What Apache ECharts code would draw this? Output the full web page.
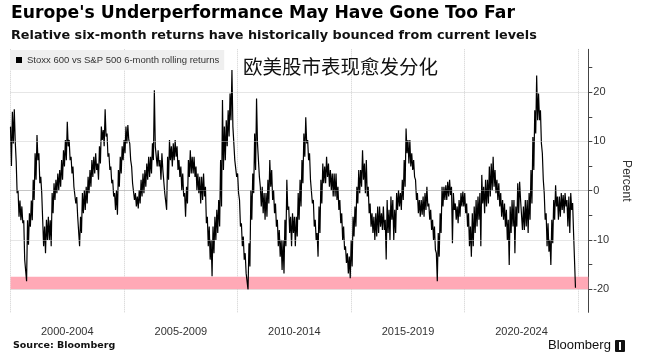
<!DOCTYPE html>
<html>
<head>
<meta charset="utf-8">
<script src="https://cdn.jsdelivr.net/npm/echarts@6/dist/echarts.min.js"></script>
<style>
  html, body { margin: 0; padding: 0; background: #fff; }
  #chart { width: 654px; height: 364px; }
</style>
</head>
<body>
<div id="chart"></div>
<script>
// ---- Data (monthly high / low of the daily series, %) ----
const startYear = 2000;
const seriesName = 'Stoxx 600 vs S&P 500 6-month rolling returns';
const periodLabels = ['2000-2004', '2005-2009', '2010-2014', '2015-2019', '2020-2024'];
const yTickValues = [-20, -15, -10, -5, 0, 5, 10, 15, 20, 25];
const yLabelValues = [-20, -10, 0, 10, 20];
const gridValues = [-20, -10, 10, 20];
const zeroValue = [0];
const bandRange = [-17.5, -20];

const highs = [
  /*2000*/ 13, 16, 16.5, 6, 0, -2, -3.2, -6, -14, -6, -4.6, -2,
  /*2001*/ 2.2, 7.6, 11.3, 7.6, 2.8, -5.9, -7.3, -5.9, -5.3, -6, -0.5, 1.5,
  /*2002*/ 2.2, 3.5, 4.2, 6.2, 8.2, 10.3, 14, 10.3, 6.9, 4.9, 0.8, -1.3,
  /*2003*/ -5.3, -5.3, -0.5, 0.1, 0.8, 2.8, 4.2, 6.2, 6.9, 7.6, 5.5, 9,
  /*2004*/ 13, 12.3, 16.5, 11.6, 7.6, 4.9, 2.2, -0.5, 0.1, 4.2, 6.9, 9,
  /*2005*/ 10.3, 13, 13.3, 9.6, 4.9, 1.5, -0.5, -1.2, 0.1, 2.2, 3.5, 4.2,
  /*2006*/ 5.5, 6.9, 6.9, 9.6, 20.4, 9, 8.2, 6.2, 7.6, 4.2, -0.5, 6.9,
  /*2007*/ 10.3, 9, 9.6, 10.3, 9, 6.2, 4.9, 3.5, -0.5, 0.8, 6.2, 8.2,
  /*2008*/ 6.9, 6.9, 4.9, 3.5, 2.8, 2.8, 3.5, 0.8, -5.3, -7.3, -10, -7.3,
  /*2009*/ -5.3, -3.9, -1.9, 6.2, 18.4, 13, 14.3, 16.3, 19.7, 24.5, 13, 6.2,
  /*2010*/ 3.5, -1.9, -6.6, -9.3, -12.7, -16.8, -10.7, 0.1, 3.5, 11.6, 18.7, 9.6,
  /*2011*/ 0.8, 0.8, -0.5, -0.5, 2.2, 6.2, 4.2, 0.1, -2.6, -5.9, -8, -10,
  /*2012*/ -10, -5.9, 2.2, -3.2, -5.3, -4.6, -5.3, -5.3, -0.5, 2.2, 6.2, 11.6,
  /*2013*/ 14.9, 10.3, 7.6, 2.2, -1.9, -5.9, -8.6, -3.2, 2.2, 5.5, 4.9, 6.9,
  /*2014*/ 5.5, 4.2, 3.5, 3.5, 3.5, 0.8, -1.9, -4.6, -7.3, -11.3, -12.7, -13.4,
  /*2015*/ -10, -5.3, -3.2, 0.8, 4.2, 4.2, 8.2, 5.5, 6.2, 0.8, -2.6, -4.6,
  /*2016*/ -5.3, -4.6, -3.2, -3.2, -4.6, -3.2, -5.9, -1.9, -3.9, -1.2, -1.9, -3.9,
  /*2017*/ -0.5, 0.1, -0.5, 2.2, 6.2, 12.6, 10.3, 10.3, 7.6, 6.2, 2.2, -0.5,
  /*2018*/ -1.9, -1.9, -1.2, -0.5, 0.8, -2.6, -3.9, -5.9, -7.3, -12.7, -8.6, -4.6,
  /*2019*/ 0.8, 0.8, 1.1, 1.8, 2.2, 0.8, -0.5, -2.6, -3.2, -1.9, -0.5, -0.2,
  /*2020*/ -0.5, -2.6, -4.6, -7.3, -4.6, -3.2, -1.9, -1.2, -0.5, 3.2, 0.8, 2.2,
  /*2021*/ 2.2, 4.9, 5.5, 6.9, 4.2, 2.2, 1.5, -0.5, -1.9, -2.6, -3.9, -5.9,
  /*2022*/ -3.2, -1.9, -1.9, -3.2, 1.5, 1.8, -1.9, -3.2, -1.9, -1.9, -0.5, 4.2,
  /*2023*/ 10.9, 16.3, 23.4, 19.7, 16.3, 7.6, -0.5, -4.6, -6.6, -10, -5.9, -1.9,
  /*2024*/ 1.1, -1.2, -1.2, -0.5, -0.9, -0.5, -1.9, -1.2, -0.5, -2.5, -9
];
const lows = [
  /*2000*/ 5, 9.6, 10, -0.5, -5.3, -6, -6.6, -14, -18.4, -11, -7.3, -6,
  /*2001*/ -1.9, 2.2, 6.2, 1.5, -0.5, -11.3, -12.7, -10, -10, -11.3, -4.6, -1.9,
  /*2002*/ -0.5, 0.1, 0.8, 2.2, 4.9, 6.2, 9, 6.2, 3.5, 0.8, -2.6, -5.3,
  /*2003*/ -11.3, -8.6, -4.6, -3.9, -2.6, -0.5, 0.8, 2.8, 3.5, 4.2, 2.2, 5.5,
  /*2004*/ 10.3, 9, 11, 6.9, 4.2, 1.5, -1.2, -3.9, -4.9, 0.8, 3.5, 6.2,
  /*2005*/ 7.6, 9.6, 10.3, 6.2, 1.5, -1.9, -3.2, -3.6, -2.6, -1.2, -0.5, 0.8,
  /*2006*/ 2.2, 2.8, 3.5, 6.2, 9, 4.9, 4.9, 2.2, 4.2, -0.5, -3.9, 2.2,
  /*2007*/ 6.2, 4.9, 6.2, 6.9, 4.2, 2.8, 0.1, -1.2, -5.3, -2.6, 2.8, 3.5,
  /*2008*/ 3.5, 2.8, 0.1, -0.5, -2.6, -1.9, -1.2, -6.6, -11.3, -14, -17.4, -12.7,
  /*2009*/ -10, -8.6, -7.3, -3.2, 4.2, 6.2, 9, 11, 14.3, 13, 6.2, 2.8,
  /*2010*/ -0.5, -7.3, -11.3, -14, -16.8, -20.1, -15.4, -5.9, -0.5, 4.2, 9.6, 2.8,
  /*2011*/ -3.2, -4.6, -5.9, -5.3, -2.6, 0.8, -1.9, -4.6, -7.3, -11.3, -13.4, -16.1,
  /*2012*/ -16.8, -11.3, -3.9, -8.6, -11.3, -8.6, -11.3, -9.3, -5.9, -3.2, 1.5, 6.9,
  /*2013*/ 9.6, 6.2, 2.2, -2.6, -7.3, -10, -13.4, -8.6, -2.6, 1.5, 1.5, 2.8,
  /*2014*/ 0.8, 0.1, -1.2, -1.2, -1.9, -3.9, -6.6, -10, -12, -14.7, -16.8, -17.8,
  /*2015*/ -15.4, -9.3, -7.3, -2.6, -0.5, 0.8, 2.2, -0.5, -1.2, -4.6, -7.3, -8.6,
  /*2016*/ -10, -9.3, -8.6, -7.3, -8, -8, -14, -8.6, -10, -5.9, -10, -8.6,
  /*2017*/ -3.9, -3.2, -3.9, -1.9, 0.8, 7.6, 5.5, 4.9, 4.2, 2.8, -1.9, -4.6,
  /*2018*/ -5.3, -4.9, -5.3, -3.9, -3.2, -5.9, -8, -10, -12, -18.4, -13.4, -8.6,
  /*2019*/ -3.2, -1.9, -1.9, -1.2, -0.9, -10.7, -3.9, -5.9, -6.6, -5.3, -3.2, -3.2,
  /*2020*/ -4.6, -7.3, -11.3, -13.4, -11.3, -8.6, -7.3, -5.9, -11.3, -2.6, -4.6, -3.2,
  /*2021*/ -2.6, -1.2, 0.1, 0.8, -0.5, -1.9, -3.2, -5.3, -5.9, -7.3, -10, -15.1,
  /*2022*/ -8.6, -7.3, -12.7, -7.3, -4.6, -1.9, -8, -8, -7.3, -8.6, -5.9, -2.6,
  /*2023*/ 4.2, 11.6, 14.3, 14.3, 9.6, 2.2, -5.9, -11.3, -12.4, -15.1, -10.7, -5.9,
  /*2024*/ -3.2, -5.9, -5.3, -3.9, -4.6, -3.2, -7.3, -8.6, -3.9, -8.6, -19.7
];

// ---- Build series (month m: high at start of month, low at mid-month) ----
const lineData = [];
for (let m = 0; m < highs.length; m++) {
  lineData.push([startYear + m / 12, highs[m]]);
  lineData.push([startYear + (m + 0.5) / 12, lows[m]]);
}

const X_MIN = 2000, X_MAX = 2025.44;
const FONT = 'Liberation Sans, Arial, sans-serif';
const HEAD_FONT = 'DejaVu Sans, Liberation Sans, sans-serif';

const chart = echarts.init(document.getElementById('chart'), null, { renderer: 'canvas' });
chart.setOption({
  animation: false,
  backgroundColor: '#ffffff',
  textStyle: { fontFamily: FONT },
  title: [
    { text: "Europe's Underperformance May Have Gone Too Far", left: 11, top: 5, padding: 0,
      textStyle: { fontSize: 17.2, fontWeight: 'bold', color: '#000', fontFamily: HEAD_FONT } },
    { text: 'Relative six-month returns have historically bounced from current levels', left: 11, top: 29.5, padding: 0,
      textStyle: { fontSize: 12.8, fontWeight: 'bold', color: '#111', fontFamily: HEAD_FONT } },
    { text: 'Source: Bloomberg', left: 13, top: 341, padding: 0,
      textStyle: { fontSize: 9.5, fontWeight: 'bold', color: '#111', fontFamily: HEAD_FONT } },
    { text: 'Bloomberg', left: 548, top: 339, padding: 0,
      textStyle: { fontSize: 13, fontWeight: 'normal', color: '#111', fontFamily: FONT } }
  ],
  legend: {
    data: [seriesName],
    left: 10, top: 50,
    padding: [5, 5, 5, 6],
    backgroundColor: '#efefef',
    icon: 'rect', itemWidth: 6, itemHeight: 6,
    textStyle: { fontSize: 9.5, color: '#333', fontFamily: FONT }
  },
  graphic: [
    { type: 'text', left: 243, top: 57, z: 100,
      style: { text: '欧美股市表现愈发分化', font: '19.5px "Noto Sans CJK SC"', fill: '#111' } },
    { type: 'rect', left: 615, top: 340, z: 100, shape: { width: 10, height: 12, r: 1 }, style: { fill: '#111' } },
    { type: 'rect', left: 619, top: 342, z: 101, shape: { width: 2, height: 8 }, style: { fill: '#fff' } }
  ],
  grid: { left: 10.5, right: 65.7, top: 49.3, bottom: 51.7, containLabel: false, outerBoundsMode: 'none' },
  xAxis: [
    {
      type: 'value', min: X_MIN, max: X_MAX, interval: 5, position: 'bottom',
      axisLine: { show: false }, axisTick: { show: false }, axisLabel: { show: false },
      splitLine: { show: true, lineStyle: { color: '#cfcfcf', type: 'dotted', width: 1 } }
    },
    {
      type: 'value', min: X_MIN, max: X_MAX, interval: 2.5, position: 'bottom',
      axisLine: { show: false }, axisTick: { show: false }, splitLine: { show: false },
      axisLabel: {
        show: true, margin: 14, fontSize: 11, color: '#333', fontFamily: FONT,
        showMinLabel: true, showMaxLabel: false,
        formatter: function (v) {
          const i = Math.round((v - (startYear + 2.5)) / 5);
          if (i >= 0 && i < periodLabels.length && Math.abs(v - (startYear + 2.5 + 5 * i)) < 0.01) return periodLabels[i];
          return '';
        }
      }
    }
  ],
  yAxis: {
    type: 'value', position: 'right', min: -24.7, max: 28.7,
    name: 'Percent', nameLocation: 'middle', nameRotate: -90, nameGap: 26,
    nameTextStyle: { fontSize: 12, color: '#333', fontFamily: FONT },
    axisLine: { show: true, lineStyle: { color: '#444', width: 1 } },
    axisTick: { show: true, length: 4, inside: false, customValues: yTickValues, lineStyle: { color: '#444' } },
    axisLabel: { show: true, customValues: yLabelValues, margin: 5, fontSize: 11, color: '#333', fontFamily: FONT },
    splitLine: { show: false }
  },
  series: [
    {
      name: 'guides', type: 'line', data: [], z: 1, silent: true, xAxisIndex: 0,
      markArea: {
        silent: true,
        itemStyle: { color: '#ffa9b6' },
        data: [[{ yAxis: bandRange[0] }, { yAxis: bandRange[1] }]]
      },
      markLine: {
        silent: true, symbol: 'none', label: { show: false },
        data: gridValues.map(v => ({ yAxis: v, lineStyle: { color: '#cccccc', type: 'dotted', width: 1 } }))
          .concat(zeroValue.map(v => ({ yAxis: v, lineStyle: { color: '#8a8a8a', type: 'dotted', width: 1 } })))
      }
    },
    {
      name: seriesName, type: 'line', data: lineData, z: 3, xAxisIndex: 0,
      showSymbol: false, symbol: 'none',
      itemStyle: { color: '#000' },
      lineStyle: { color: '#000', width: 1.2 }
    }
  ]
});
</script>
</body>
</html>
